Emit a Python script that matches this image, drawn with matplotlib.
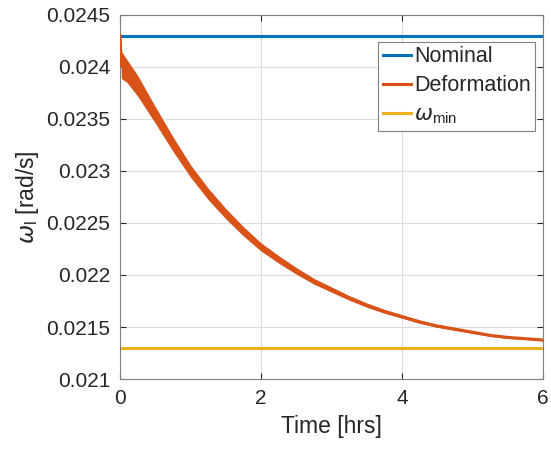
import matplotlib
matplotlib.use("Agg")
import matplotlib.pyplot as plt
import matplotlib.ticker as ticker
import numpy as np

# values
time_hrs = [0.0, 0.02, 0.1, 0.25, 0.5, 0.75, 1.0, 1.25, 1.5, 1.75, 2.0,
            2.25, 2.5, 2.75, 3.0, 3.25, 3.5, 3.75, 4.0, 4.25, 4.5, 4.75,
            5.0, 5.25, 5.5, 5.75, 6.0]
deform_center = [0.02430, 0.02402, 0.02396, 0.02382, 0.02354, 0.02326,
                 0.02300, 0.02278, 0.02259, 0.02242, 0.02227, 0.02215,
                 0.02204, 0.02194, 0.02186, 0.02178, 0.02171, 0.02165,
                 0.02160, 0.02155, 0.02151, 0.02148, 0.02145, 0.02142,
                 0.02140, 0.021388, 0.021375]
# half height of the oscillation band around the centre line
deform_ripple = [0.0, 0.00013, 0.00011, 0.00010, 0.00008, 0.00007,
                 0.00006, 0.000055, 0.00005, 0.000045, 0.00004, 0.000036,
                 0.000032, 0.000028, 0.000025, 0.000022, 0.00002,
                 0.000018, 0.000016, 0.000015, 0.000014, 0.000013,
                 0.000012, 0.000011, 0.000011, 0.00001, 0.00001]
nominal_value = 0.0243
omega_min_value = 0.0213
x_ticks = [0, 2, 4, 6]
y_ticks = [0.021, 0.0215, 0.022, 0.0225, 0.023, 0.0235, 0.024, 0.0245]

BLUE = "#0072BD"
ORANGE = "#D95319"
YELLOW = "#EDB120"
DARK = "#262626"


def fmt_tick(val, _):
    return f"{val:g}"


def main():
    plt.rcParams["font.family"] = ["Liberation Sans", "DejaVu Sans"]
    plt.rcParams["mathtext.fontset"] = "custom"
    plt.rcParams["mathtext.rm"] = "Liberation Sans"
    plt.rcParams["mathtext.it"] = "DejaVu Sans:italic"

    fig = plt.figure(figsize=(5.51, 4.49), dpi=100)
    ax = fig.add_axes([0.2178, 0.1559, 0.7677, 0.8107])

    t = np.array(time_hrs)
    c = np.array(deform_center)
    r = np.array(deform_ripple)

    ax.plot([0, 6], [nominal_value, nominal_value], color=BLUE, lw=2.2,
            label="Nominal")
    ax.fill_between(t, c - r, c + r, color=ORANGE, lw=0, zorder=2)
    ax.plot(t, c, color=ORANGE, lw=2.2, label="Deformation", zorder=3)
    ax.plot([0, 6], [omega_min_value, omega_min_value], color=YELLOW,
            lw=2.2, label=r"$\omega_{\mathrm{min}}$")

    ax.set_xlim(0, 6)
    ax.set_ylim(0.021, 0.0245)
    ax.set_xticks(x_ticks)
    ax.set_yticks(y_ticks)
    ax.yaxis.set_major_formatter(ticker.FuncFormatter(fmt_tick))
    ax.grid(True, color="#dcdcdc", lw=0.8)
    ax.set_axisbelow(True)
    ax.tick_params(direction="in", top=True, right=True, labelsize=15,
                   colors=DARK, length=4, width=0.8)
    ax.tick_params(axis="x", pad=7)
    ax.tick_params(axis="y", pad=7)
    for sp in ax.spines.values():
        sp.set_color("#808080")
        sp.set_linewidth(0.8)

    ax.set_xlabel("Time [hrs]", fontsize=16.5, color=DARK, labelpad=5)
    ax.set_ylabel(r"$\omega_\mathrm{l}$ [rad/s]", fontsize=16.5,
                  color=DARK, labelpad=4)

    leg = ax.legend(loc="upper right", bbox_to_anchor=(0.981, 0.926),
                    borderaxespad=0, fancybox=False, fontsize=15.5,
                    handlelength=1.3, handletextpad=0.15,
                    labelspacing=0.38, borderpad=0.2, framealpha=1)
    leg.get_frame().set_edgecolor("#808080")
    leg.get_frame().set_linewidth(0.8)
    for txt in leg.get_texts():
        txt.set_color(DARK)

    fig.savefig("out.png", dpi=100)


if __name__ == "__main__":
    main()
